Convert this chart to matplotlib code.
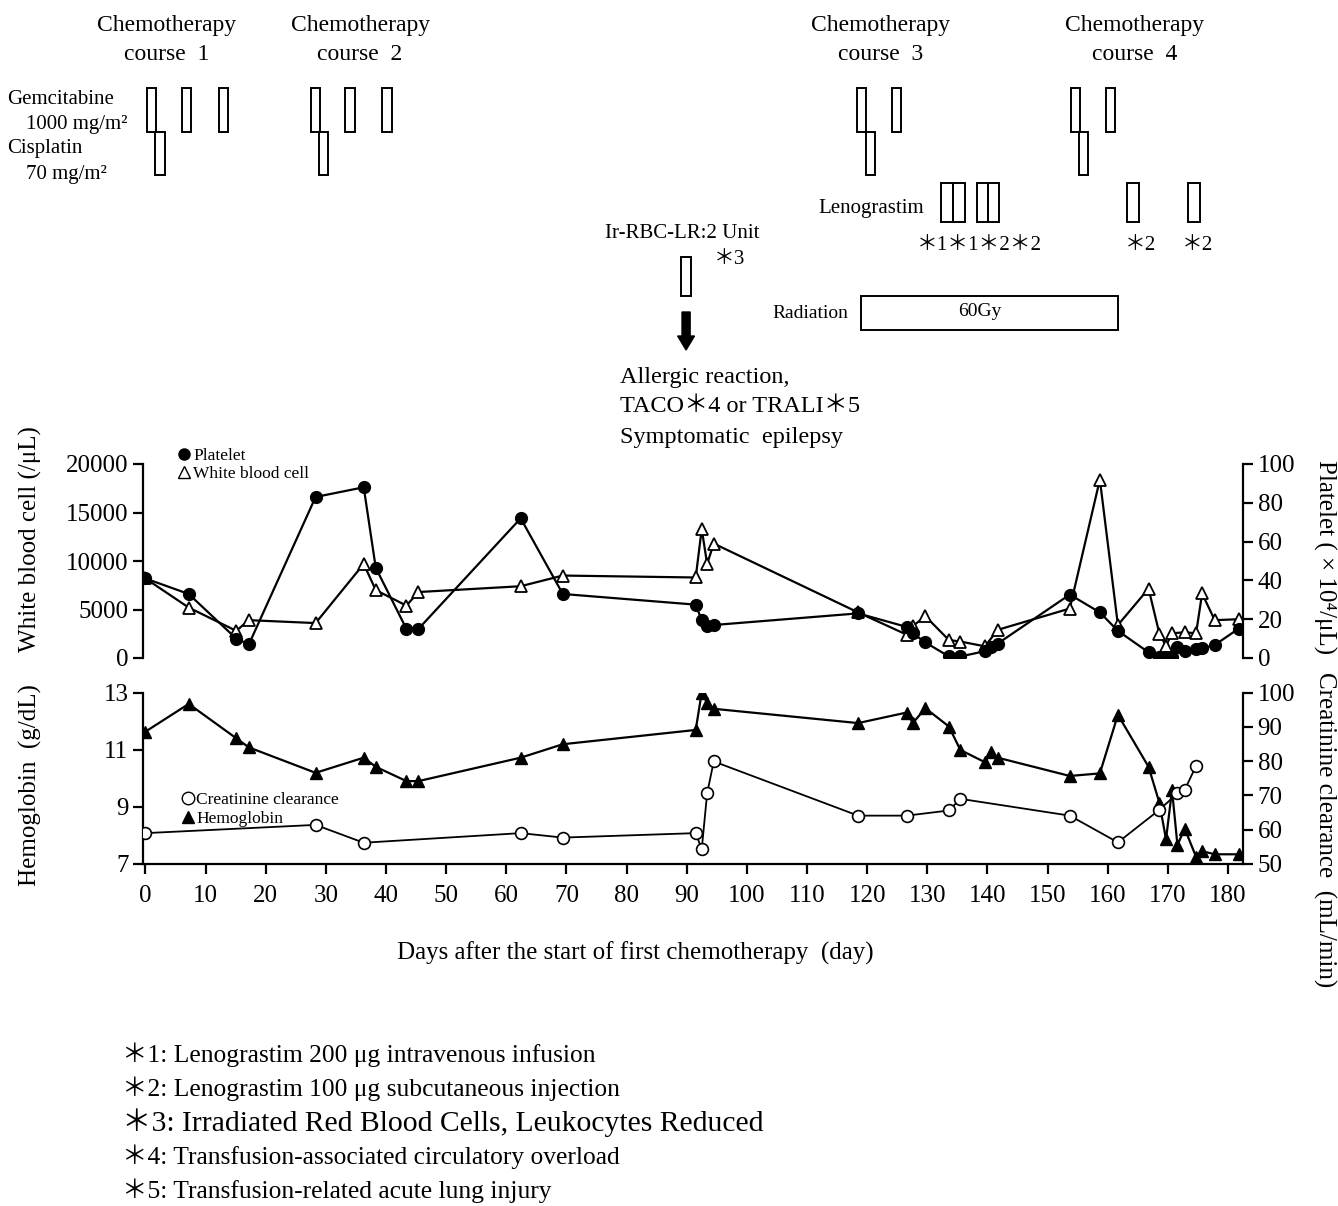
import numpy as np
import matplotlib
matplotlib.use('Agg')
import matplotlib.pyplot as plt
from matplotlib.patches import Rectangle
from matplotlib.lines import Line2D

plt.rcParams['font.family'] = ['Liberation Serif', 'Noto Sans CJK JP']
plt.rcParams['axes.unicode_minus'] = False

# ---- data (days after start of first chemotherapy) ----
plt_days = [0, 7.2, 15.1, 17.2, 28.3, 36.3, 38.3, 43.4, 45.4, 62.4, 69.4, 91.5, 92.5, 93.4, 94.5,
            118.5, 126.6, 127.6, 129.7, 133.6, 135.5, 139.6, 140.6, 141.7, 153.7, 158.7, 161.7,
            166.8, 168.6, 169.7, 170.7, 171.6, 172.8, 174.7, 175.7, 177.8, 181.8]
platelet = [41, 33, 10, 7, 83, 88, 46.5, 15, 15, 72, 33, 27.5, 19.5, 16.5, 17,
            23, 16, 12.7, 8, 0.8, 0.8, 3.5, 5.8, 7.4, 32.7, 23.5, 14,
            2.9, 0.5, 0.5, 0.5, 5.5, 3.8, 4.5, 5, 6.7, 15.2]

wbc_days = [0, 7.2, 15.1, 17.2, 28.3, 36.3, 38.3, 43.4, 45.4, 62.4, 69.4, 91.5, 92.5, 93.4, 94.5,
            118.5, 126.6, 127.6, 129.7, 133.6, 135.5, 139.6, 141.7, 153.7, 158.7, 161.7,
            166.8, 168.6, 169.7, 170.7, 172.8, 174.7, 175.7, 177.8, 181.8]
wbc = [8200, 5200, 2800, 3900, 3600, 9700, 7000, 5400, 6800, 7400, 8500, 8300, 13300, 9700, 11800,
       4700, 2400, 3300, 4300, 1850, 1700, 1200, 2900, 5100, 18400, 3400,
       7150, 2500, 1250, 2550, 2650, 2550, 6650, 3900, 4000]

hb_days = plt_days
hb = [11.63, 12.6, 11.4, 11.08, 10.19, 10.72, 10.4, 9.9, 9.9, 10.72, 11.19, 11.69, 13.0, 12.63, 12.43,
      11.93, 12.3, 11.93, 12.45, 11.81, 10.99, 10.56, 10.91, 10.72, 10.08, 10.17, 12.22,
      10.4, 9.14, 7.86, 9.59, 7.66, 8.24, 7.25, 7.45, 7.34, 7.34]

ccr_days = [0, 28.3, 36.3, 62.4, 69.4, 91.5, 92.5, 93.4, 94.5, 118.5, 126.6, 133.6, 135.5,
            153.7, 161.7, 168.6, 171.6, 172.8, 174.7]
ccr = [59, 61.4, 56.2, 59, 57.7, 59, 54.3, 70.6, 79.9, 64.1, 64.1, 65.6, 69,
       64.1, 56.3, 65.8, 70.6, 71.6, 78.6]

# treatment schedule (days)
gem_days = [1.05, 6.8, 13.0, 28.3, 34.0, 40.2, 119.1, 124.9, 154.7, 160.5]
cis_days = [2.45, 29.6, 120.6, 156.0]
leno_days = [133.3, 135.3, 139.2, 141.0, 164.2, 174.3]
rbc_day = 89.9
radiation = (119.0, 161.7)
course_days = [3.6, 35.7, 122.2, 164.5]

footnotes = ['＊1: Lenograstim 200 μg intravenous infusion',
             '＊2: Lenograstim 100 μg subcutaneous injection',
             '＊3: Irradiated Red Blood Cells, Leukocytes Reduced',
             '＊4: Transfusion-associated circulatory overload',
             '＊5: Transfusion-related acute lung injury']

W, H = 1338, 1206
fig = plt.figure(figsize=(W / 100, H / 100), dpi=100)
XLIM = (-0.4, 182.5)
L, R = 143 / W, 1243 / W

def style(ax, spines):
    for s in ['left', 'right', 'top', 'bottom']:
        ax.spines[s].set_visible(s in spines)
        ax.spines[s].set_linewidth(1.6)
    ax.tick_params(width=1.6, length=7, labelsize=18, direction='out')

# upper panel: WBC + platelet
ax1 = fig.add_axes([L, 1 - 658 / H, R - L, (658 - 464) / H])
ax1.set_xlim(*XLIM)
ax1.set_ylim(0, 20000)
ax1.set_yticks(np.arange(0, 20001, 5000))
ax1.set_xticks([])
style(ax1, ['left'])
ax1.plot(wbc_days, wbc, color='black', lw=1.6, marker='^', ms=9, mfc='white', mec='black', mew=1.3)

ax1r = ax1.twinx()
ax1r.set_xlim(*XLIM)
ax1r.set_ylim(0, 100)
ax1r.set_yticks(np.arange(0, 101, 20))
style(ax1r, ['right'])
ax1r.plot(plt_days, platelet, color='black', lw=1.6, marker='o', ms=8.5, mfc='black', mec='black')

h1 = [Line2D([], [], ls='none', marker='o', ms=8, color='black'),
      Line2D([], [], ls='none', marker='^', ms=9, mfc='white', mec='black')]
ax1r.legend(h1, ['Platelet', 'White blood cell'], loc='upper left', bbox_to_anchor=(0.025, 1.13),
            frameon=False, fontsize=12.5, handlelength=0.6, handletextpad=0.2, labelspacing=0.15,
            borderpad=0)

# lower panel: hemoglobin + creatinine clearance
ax2 = fig.add_axes([L, 1 - 864 / H, R - L, (864 - 692.5) / H])
ax2.set_xlim(*XLIM)
ax2.set_ylim(7, 13)
ax2.set_yticks([7, 9, 11, 13])
ax2.set_xticks(np.arange(0, 181, 10))
style(ax2, ['left', 'bottom'])
ax2.tick_params(axis='x', pad=8)
ax2.plot(hb_days, hb, color='black', lw=1.6, marker='^', ms=9, mfc='black', mec='black')

ax2r = ax2.twinx()
ax2r.set_xlim(*XLIM)
ax2r.set_ylim(50, 100)
ax2r.set_yticks(np.arange(50, 101, 10))
style(ax2r, ['right'])
ax2r.plot(ccr_days, ccr, color='black', lw=1.3, marker='o', ms=8.5, mfc='white', mec='black', mew=1.2)

h2 = [Line2D([], [], ls='none', marker='o', ms=9, mfc='white', mec='black'),
      Line2D([], [], ls='none', marker='^', ms=9, color='black')]
ax2r.legend(h2, ['Creatinine clearance', 'Hemoglobin'], loc='upper left', bbox_to_anchor=(0.028, 0.47),
            frameon=False, fontsize=12.5, handlelength=0.6, handletextpad=0.2, labelspacing=0.15,
            borderpad=0)

# axis labels
fig.text(30 / W, 1 - 539 / H, 'White blood cell (/μL)', rotation=90, ha='center', va='center', fontsize=18)
fig.text(30 / W, 1 - 785 / H, 'Hemoglobin  (g/dL)', rotation=90, ha='center', va='center', fontsize=18)
fig.text(1325 / W, 1 - 557 / H, 'Platelet ( × 10⁴/μL)', rotation=270, ha='center', va='center', fontsize=18)
fig.text(1325 / W, 1 - 830 / H, 'Creatinine clearance  (mL/min)', rotation=270, ha='center', va='center',
         fontsize=18)
fig.text(635 / W, 1 - 953 / H, 'Days after the start of first chemotherapy  (day)', ha='center', va='center',
         fontsize=18)

# treatment schedule drawn above, x in days, y in pixel rows
ax0 = fig.add_axes([L, 1 - 460 / H, R - L, 460 / H])
ax0.set_xlim(*XLIM)
ax0.set_ylim(460, 0)
ax0.axis('off')

def box(x0, x1, y0, y1, lw=1.4):
    ax0.add_patch(Rectangle((x0, y0), x1 - x0, y1 - y0, fill=False, ec='black', lw=lw, clip_on=False))

for d in gem_days:
    box(d - 0.78, d + 0.78, 88, 132)
for d in cis_days:
    box(d - 0.78, d + 0.78, 132, 175)
for d in leno_days:
    box(d - 0.97, d + 0.97, 183, 222)
box(rbc_day - 0.9, rbc_day + 0.9, 257, 296)
box(radiation[0], radiation[1], 296, 330)
ax0.arrow(rbc_day, 312, 0, 38, width=1.35, head_width=2.8, head_length=14, length_includes_head=True,
          color='black', clip_on=False)

for i, d in enumerate(course_days):
    ax0.text(d, 40, 'Chemotherapy\ncourse  %d' % (i + 1), ha='center', va='center', fontsize=17,
             linespacing=1.5)

ax0.text(-23.0, 100, 'Gemcitabine', ha='left', va='center', fontsize=15)
ax0.text(-19.9, 124, '1000 mg/m²', ha='left', va='center', fontsize=15)
ax0.text(-23.0, 149, 'Cisplatin', ha='left', va='center', fontsize=15)
ax0.text(-19.9, 174, '70 mg/m²', ha='left', va='center', fontsize=15)
ax0.text(129.5, 208, 'Lenograstim', ha='right', va='center', fontsize=15)
ax0.text(138.6, 245, '＊1＊1＊2＊2', ha='center', va='center', fontsize=15)
ax0.text(165.4, 245, '＊2', ha='center', va='center', fontsize=15)
ax0.text(175.0, 245, '＊2', ha='center', va='center', fontsize=15)
ax0.text(89.3, 233, 'Ir-RBC-LR:2 Unit', ha='center', va='center', fontsize=15)
ax0.text(97.1, 259, '＊3', ha='center', va='center', fontsize=15)
ax0.text(110.5, 313, 'Radiation', ha='center', va='center', fontsize=14)
ax0.text(138.8, 311, '60Gy', ha='center', va='center', fontsize=14)
ax0.text(78.9, 377, 'Allergic reaction,', ha='left', va='center', fontsize=17.5)
ax0.text(78.9, 407, 'TACO＊4 or TRALI＊5', ha='left', va='center', fontsize=17.5)
ax0.text(78.9, 437, 'Symptomatic  epilepsy', ha='left', va='center', fontsize=17.5)

# footnotes
for i, t in enumerate(footnotes):
    fig.text(122 / W, 1 - (1055 + 34 * i) / H, t, ha='left', va='center',
             fontsize=21.3 if i == 2 else 18.4)

fig.savefig('out.png', dpi=100)
